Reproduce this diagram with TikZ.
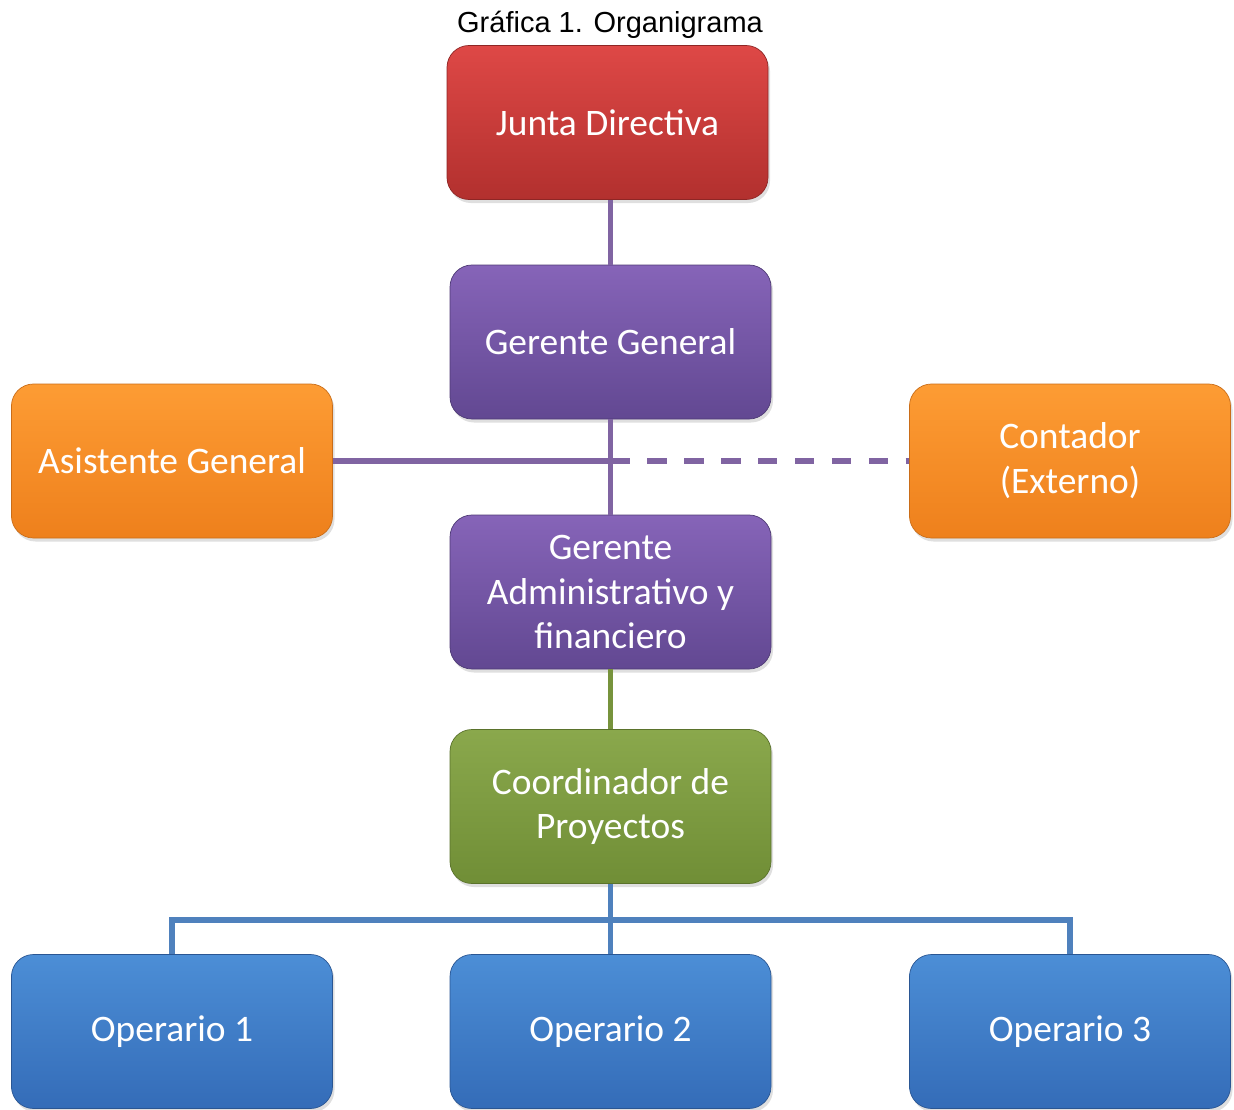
\documentclass[tikz,border=0pt]{standalone}
\usepackage{fontspec}
\setmainfont{Liberation Sans}
\newfontfamily\boxfont{Carlito}
\usepackage{tikz}
\usetikzlibrary{positioning,calc,shadows}
\definecolor{redtop}{RGB}{222,72,70}
\definecolor{redbot}{RGB}{178,48,46}
\definecolor{purtop}{RGB}{134,100,184}
\definecolor{purbot}{RGB}{98,72,146}
\definecolor{orgtop}{RGB}{253,156,52}
\definecolor{orgbot}{RGB}{238,128,28}
\definecolor{grntop}{RGB}{138,168,76}
\definecolor{grnbot}{RGB}{112,142,54}
\definecolor{blutop}{RGB}{76,142,214}
\definecolor{blubot}{RGB}{52,108,184}
\definecolor{purline}{RGB}{128,100,162}
\definecolor{grnline}{RGB}{119,147,60}
\definecolor{bluline}{RGB}{79,129,189}

\begin{document}
\begin{tikzpicture}[
    orgbox/.style={rectangle, rounded corners=12.5pt, minimum width=6.42cm,
        minimum height=3.08cm, align=center, text=white,
        font=\boxfont\fontsize{21.3}{25.5}\selectfont,
        drop shadow={opacity=0.25, shadow xshift=0.04cm, shadow yshift=-0.07cm}},
    redbox/.style={orgbox, top color=redtop, bottom color=redbot, draw=redbot!80!black},
    purbox/.style={orgbox, top color=purtop, bottom color=purbot, draw=purbot!80!black},
    orgbx/.style={orgbox, top color=orgtop, bottom color=orgbot, draw=orgbot!85!black},
    grnbox/.style={orgbox, top color=grntop, bottom color=grnbot, draw=grnbot!80!black},
    blubox/.style={orgbox, top color=blutop, bottom color=blubot, draw=blubot!80!black},
    link/.style={line width=3.4pt}
]
    \useasboundingbox (0,0) rectangle (24.68,-22.2);
    \node[font=\fontsize{16.5}{19}\selectfont] (title) at (12.2,-0.5) {Gráfica 1. Organigrama};

    % niveles
    \node[redbox] (junta) at (12.15,-2.45) {Junta Directiva};
    \node[purbox] (gergen) at (12.21,-6.84) {Gerente General};
    \node[orgbx] (asist) at (3.44,-9.22) {Asistente General};
    \node[orgbx] (conta) at (21.4,-9.22) {Contador\\(Externo)};
    \node[purbox] (geradm) at (12.21,-11.84) {Gerente\\Administrativo y\\financiero};
    \node[grnbox] (coord) at (12.21,-16.13) {Coordinador de\\Proyectos};
    \node[blubox] (op1) at (3.44,-20.63) {Operario 1};
    \node[blubox] (op2) at (12.21,-20.63) {Operario 2};
    \node[blubox] (op3) at (21.4,-20.63) {Operario 3};

    \coordinate (cruce) at (asist.east -| gergen.south);
    \coordinate (bus) at ($(coord.south)!0.52!(op2.north)$);

    % conectores
    \draw[link, purline] (gergen.north) -- (gergen.north |- junta.south);
    \draw[link, purline] (gergen) -- (geradm);
    \draw[link, purline] (asist.east) -- (cruce);
    \draw[link, purline, dash pattern=on 11pt off 10pt] (cruce) -- (conta.west);
    \draw[link, grnline] (geradm) -- (coord);
    \draw[link, bluline] (coord) -- (op2);
    \draw[link, bluline] (op1.north) |- (bus) -| (op3.north);
\end{tikzpicture}
\end{document}
